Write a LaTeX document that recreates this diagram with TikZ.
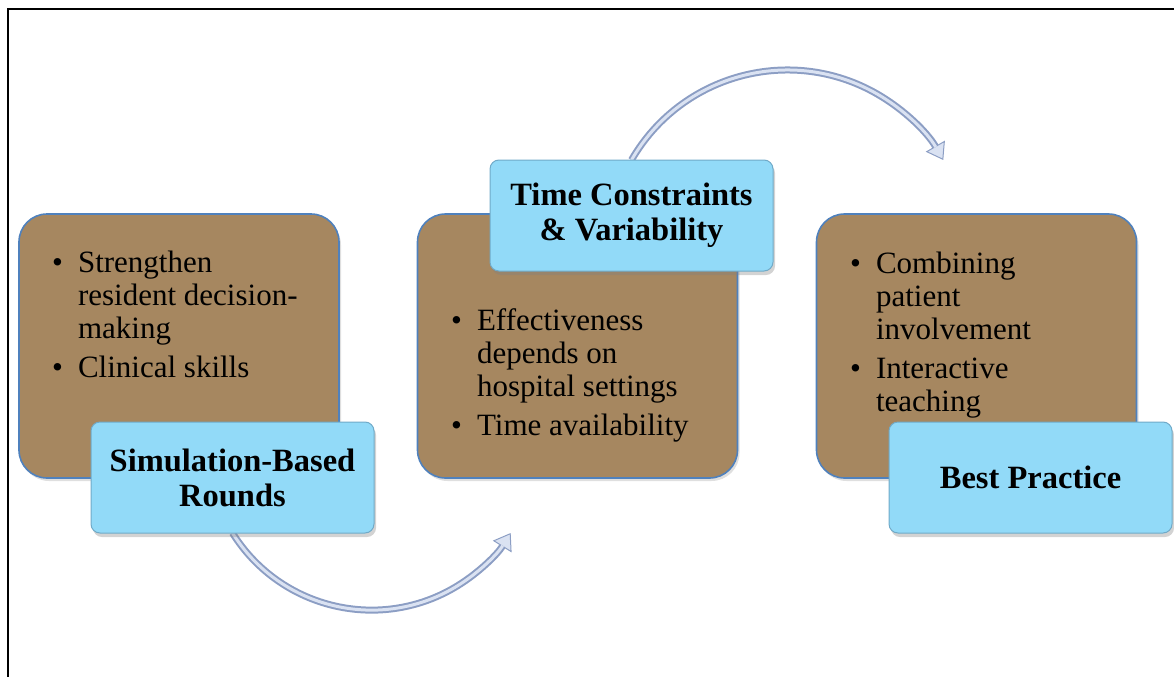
\documentclass[tikz,border=0pt]{standalone}
\usepackage{fontspec}
\setmainfont{Liberation Serif}
\usepackage{tikz}
\usetikzlibrary{shadows,arrows.meta}
\definecolor{boxbrown}{RGB}{166,135,96}
\definecolor{boxedge}{RGB}{79,129,189}
\definecolor{capblue}{RGB}{146,218,248}
\definecolor{capedge}{RGB}{112,170,200}
\definecolor{tubeedge}{RGB}{140,158,196}
\definecolor{tubefill}{RGB}{218,226,242}

\begin{document}
\begin{tikzpicture}[x=1pt,y=1pt,every text node part/.style={align=center},
  brownbox/.style={draw=boxedge, line width=1.6pt, fill=boxbrown, rounded corners=28pt, minimum width=320pt, minimum height=264pt, drop shadow={shadow xshift=2pt, shadow yshift=-3pt, opacity=0.25}},
  bluebox/.style={draw=capedge, line width=1pt, fill=capblue, rounded corners=9pt, minimum width=283pt, minimum height=111pt, inner sep=0pt, font=\fontsize{32.5}{35}\selectfont\bfseries, drop shadow={shadow xshift=2pt, shadow yshift=-4pt, opacity=0.35}},
  bullets/.style={anchor=base west, inner sep=0pt, align=left, font=\fontsize{31}{33}\selectfont},
  tube/.style={line width=7pt, draw=tubeedge, -{Triangle[length=16pt, width=22pt, line width=1pt, fill=tubefill]}},
  tubecore/.style={line width=3pt, draw=tubefill, shorten >=15pt}]
\useasboundingbox (0,0) rectangle (1174,-677);
\draw[line width=2pt] (1174,-9.3) -- (8,-9.3) -- (8,-677);

\node[brownbox] (b1) at (179,-346) {};
\node[brownbox] (b2) at (577.5,-346) {};
\node[brownbox] (b3) at (976.5,-346) {};

\node[bullets] (l1) at (52,-272) {\begin{tabular}[t]{@{}l@{\hspace{15pt}}l@{}}\textbullet & Strengthen\\ & resident decision-\\ & making\\[6pt] \textbullet & Clinical skills\end{tabular}};
\node[bullets] (l2) at (451,-330) {\begin{tabular}[t]{@{}l@{\hspace{15pt}}l@{}}\textbullet & Effectiveness\\ & depends on\\ & hospital settings\\[6pt] \textbullet & Time availability\end{tabular}};
\node[bullets] (l3) at (850,-273) {\begin{tabular}[t]{@{}l@{\hspace{15pt}}l@{}}\textbullet & Combining\\ & patient\\ & involvement\\[6pt] \textbullet & Interactive\\ & teaching\end{tabular}};

\coordinate (s1top) at (232.5,-533);
\coordinate (t2top) at (631.5,-160);
\draw[tube] (s1top) arc[start angle=212, end angle=328, radius=164];
\draw[tubecore] (s1top) arc[start angle=212, end angle=328, radius=164];
\draw[tube] (t2top) arc[start angle=150, end angle=30, radius=180];
\draw[tubecore] (t2top) arc[start angle=150, end angle=30, radius=180];

\node[bluebox] (s1) at (232.5,-477.5) {Simulation-Based\\Rounds};
\node[bluebox] (t2) at (631.5,-215.5) {Time Constraints\\\& Variability};
\node[bluebox] (p3) at (1030.5,-477.5) {Best Practice};
\end{tikzpicture}
\end{document}
